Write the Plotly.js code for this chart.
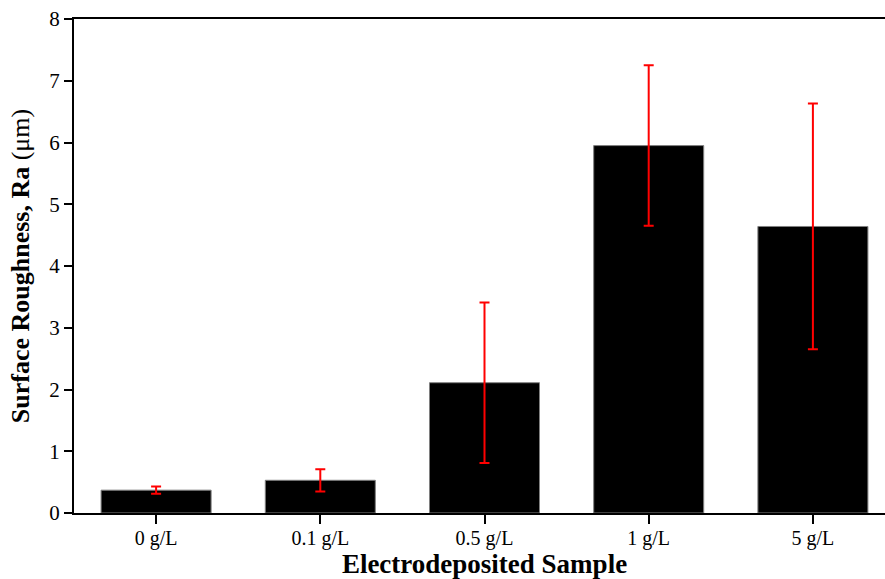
<!DOCTYPE html>
<html>
<head>
<meta charset="utf-8">
<script src="https://cdn.plot.ly/plotly-3.0.1.min.js"></script>
<style>
html,body{margin:0;padding:0;overflow:hidden;background:#fff;}
#chart{width:897px;height:579px;}
</style>
</head>
<body>
<div id="chart"></div>
<script>
const categories = ["0 g/L", "0.1 g/L", "0.5 g/L", "1 g/L", "5 g/L"];
const roughness = [0.37, 0.53, 2.11, 5.95, 4.64];
const errors = [0.06, 0.18, 1.30, 1.30, 1.99];
const yTicks = [0, 1, 2, 3, 4, 5, 6, 7, 8];

const trace = {
  type: "bar",
  x: categories,
  y: roughness,
  marker: {color: "#000000", line: {color: "#808080", width: 1}},
  error_y: {type: "data", array: errors, visible: true, color: "#ff0000", thickness: 2, width: 5}
};

const layout = {
  width: 897,
  height: 579,
  margin: {l: 74, r: 2, t: 19, b: 66},
  paper_bgcolor: "#ffffff",
  plot_bgcolor: "#ffffff",
  showlegend: false,
  bargap: 0.33,
  font: {family: "Liberation Serif, Times New Roman, serif", color: "#000000", size: 21},
  xaxis: {
    type: "category",
    range: [-0.5, 4.5],
    automargin: false,
    showline: true, linecolor: "#000000", linewidth: 2, mirror: true,
    ticks: "outside", ticklen: 9, tickwidth: 2, tickcolor: "#000000",
    ticklabelstandoff: -3,
    showgrid: false, zeroline: false,
    tickfont: {size: 20},
    title: {text: "<b>Electrodeposited Sample</b>", font: {size: 27}, standoff: 3}
  },
  yaxis: {
    range: [0, 8],
    tickvals: yTicks,
    automargin: false,
    showline: true, linecolor: "#000000", linewidth: 2, mirror: true,
    ticks: "outside", ticklen: 8, tickwidth: 2, tickcolor: "#000000",
    showgrid: false, zeroline: false,
    tickfont: {size: 21},
    title: {text: "<b>Surface Roughness, Ra</b> (μm)", font: {size: 26}, standoff: 12}
  }
};

Plotly.newPlot("chart", [trace], layout, {displayModeBar: false, staticPlot: true});
</script>
</body>
</html>
